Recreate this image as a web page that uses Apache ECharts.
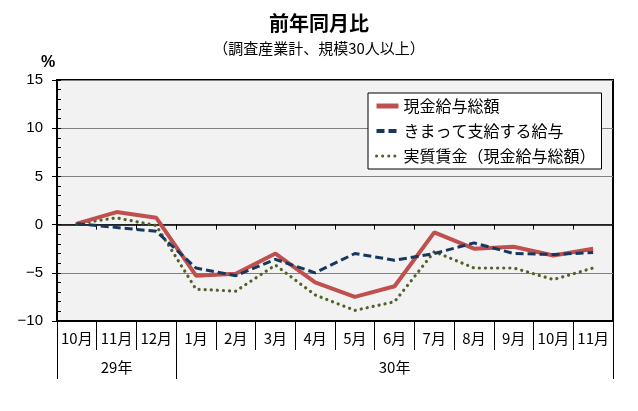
<!DOCTYPE html>
<html>
<head>
<meta charset="utf-8">
<script src="https://cdn.jsdelivr.net/npm/echarts@6/dist/echarts.min.js"></script>
<style>
html,body{margin:0;padding:0;background:#fff;}
#chart{width:638px;height:411px;}
</style>
</head>
<body>
<div id="chart"></div>
<script>
// ---- data ----
var months = ['10月','11月','12月','1月','2月','3月','4月','5月','6月','7月','8月','9月','10月','11月'];
var yearLabels = ['', '29年', '', '', '', '', '', '', '30年', '', '', '', '', ''];
var yearStartIdx = [0, 3];
var seriesNames = ['現金給与総額', 'きまって支給する給与', '実質賃金（現金給与総額）'];
var totalPay   = [0.1, 1.3, 0.7, -5.3, -5.1, -3.0, -6.0, -7.5, -6.4, -0.8, -2.5, -2.3, -3.2, -2.5];
var regularPay = [0.1, -0.3, -0.7, -4.5, -5.3, -3.6, -5.0, -3.0, -3.7, -3.0, -1.9, -3.0, -3.1, -2.9];
var realWage   = [0.1, 0.7, -0.1, -6.7, -6.9, -4.2, -7.3, -8.9, -8.0, -2.8, -4.5, -4.5, -5.7, -4.5];
var yMin = -10, yMax = 15, yStep = 5;

var jp = '"Noto Sans CJK JP", sans-serif';
var chart = echarts.init(document.getElementById('chart'), null, {renderer: 'canvas'});
var option = {
  backgroundColor: '#ffffff',
  animation: false,
  title: [
    {text: '前年同月比', left: 'center', top: 8,
     textStyle: {fontFamily: jp, fontSize: 20, fontWeight: 'bold', color: '#000'}},
    {text: '（調査産業計、規模30人以上）', left: 'center', top: 36,
     textStyle: {fontFamily: jp, fontSize: 15, fontWeight: 'normal', color: '#000'}}
  ],
  graphic: [
    {type: 'text', left: 41, top: 55,
     style: {text: '%', fontFamily: 'Liberation Sans, Arial', fontSize: 16, fontWeight: 'bold', fill: '#000'}}
  ],
  grid: {left: 57, top: 80, right: 25, bottom: 90, show: true,
         backgroundColor: '#f2f2f2', borderColor: '#000', borderWidth: 2, containLabel: false},
  legend: {
    orient: 'vertical', left: 368, top: 93,
    backgroundColor: '#fff', borderColor: '#000', borderWidth: 1,
    padding: [5, 6, 5, 6], itemWidth: 22, itemHeight: 14, itemGap: 9,
    itemStyle: {opacity: 0},
    textStyle: {fontFamily: jp, fontSize: 16, color: '#000'},
    data: [
      {name: seriesNames[0], lineStyle: {width: 5}},
      {name: seriesNames[1], lineStyle: {width: 4}},
      {name: seriesNames[2], lineStyle: {width: 3}}
    ]
  },
  xAxis: [
    {type: 'category', data: months, position: 'bottom', boundaryGap: true,
     axisLine: {onZero: false, lineStyle: {color: '#000', width: 2}},
     axisTick: {show: true, length: 29, interval: 0, lineStyle: {color: '#000', width: 1}},
     axisLabel: {interval: 0, margin: 10, fontFamily: jp, fontSize: 15, color: '#000'},
     splitLine: {show: false}},
    {type: 'category', data: months, position: 'bottom', boundaryGap: true, z: 1,
     axisLine: {onZero: true, onZeroAxisIndex: 0, lineStyle: {color: '#000', width: 1.5}},
     axisTick: {show: true, length: 5, interval: 0, lineStyle: {color: '#000', width: 1}},
     axisLabel: {show: false}, splitLine: {show: false}},
    {type: 'category', data: yearLabels, position: 'bottom', offset: 29, boundaryGap: true,
     axisLine: {show: false, onZero: false},
     axisTick: {show: true, length: 29, lineStyle: {color: '#000', width: 1},
                interval: function (i) { return yearStartIdx.indexOf(i) >= 0; }},
     axisLabel: {interval: 0, margin: 10, fontFamily: jp, fontSize: 15, color: '#000'},
     splitLine: {show: false}}
  ],
  yAxis: [
    {type: 'value', min: yMin, max: yMax, interval: yStep, position: 'left',
     axisLine: {show: true, onZero: false, lineStyle: {color: '#000', width: 2}},
     axisTick: {show: true, length: 5, inside: false, lineStyle: {color: '#000'}},
     axisLabel: {margin: 14, fontFamily: 'Liberation Sans, Arial', fontSize: 15, color: '#000',
                 formatter: function (v) { return String(v).replace('-', '\u2212'); }},
     splitLine: {show: true, lineStyle: {color: '#808080', width: 1}}},
    {type: 'value', min: yMin, max: yMax, interval: 1, position: 'left',
     axisLine: {show: false, onZero: false},
     axisTick: {show: true, inside: true, length: 4, lineStyle: {color: '#000'}},
     axisLabel: {show: false}, splitLine: {show: false}}
  ],
  series: [
    {name: seriesNames[0], type: 'line', data: totalPay, xAxisIndex: 0, yAxisIndex: 0,
     symbol: 'none', z: 3,
     lineStyle: {color: '#C0504D', width: 4}, itemStyle: {color: '#C0504D'}},
    {name: seriesNames[1], type: 'line', data: regularPay, xAxisIndex: 0, yAxisIndex: 0,
     symbol: 'none', z: 4,
     lineStyle: {color: '#17375E', width: 3, type: [8, 4]}, itemStyle: {color: '#17375E'}},
    {name: seriesNames[2], type: 'line', data: realWage, xAxisIndex: 0, yAxisIndex: 0,
     symbol: 'none', z: 2,
     lineStyle: {color: '#4F6228', width: 3.2, type: [0.1, 6], cap: 'round'}, itemStyle: {color: '#4F6228'}}
  ]
};
chart.setOption(option);
</script>
</body>
</html>
